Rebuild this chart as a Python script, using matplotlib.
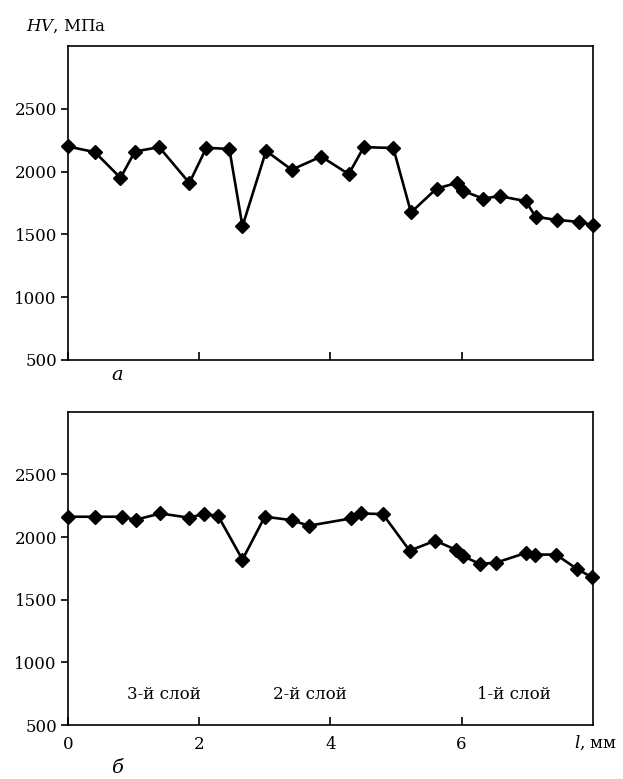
import matplotlib.pyplot as plt

# а) верхний график
l_a = [0, 0.41, 0.80, 1.02, 1.39, 1.85, 2.11, 2.46, 2.66, 3.02, 3.41, 3.86, 4.28,
       4.51, 4.96, 5.23, 5.62, 5.93, 6.03, 6.33, 6.58, 6.98, 7.13, 7.46, 7.79, 8.0]
hv_a = [2200, 2155, 1950, 2160, 2195, 1910, 2190, 2180, 1565, 2165, 2015, 2120, 1980,
        2195, 2188, 1675, 1865, 1910, 1845, 1785, 1805, 1765, 1640, 1615, 1600, 1575]

# б) нижний график
l_b = [0, 0.41, 0.82, 1.03, 1.41, 1.85, 2.07, 2.29, 2.66, 3.0, 3.41, 3.67, 4.31,
       4.47, 4.80, 5.21, 5.60, 5.92, 6.03, 6.28, 6.53, 6.98, 7.12, 7.44, 7.76, 7.99]
hv_b = [2162, 2162, 2162, 2138, 2188, 2154, 2185, 2167, 1820, 2162, 2135, 2090, 2148,
        2188, 2183, 1891, 1971, 1897, 1846, 1785, 1796, 1873, 1860, 1860, 1746, 1679]

yticks = [500, 1000, 1500, 2000, 2500]
xticks = [0, 2, 4, 6]
sloi = ['3-й слой', '2-й слой', '1-й слой']
sloi_x = [1.47, 3.69, 6.8]

plt.rcParams['font.family'] = 'DejaVu Serif'
plt.rcParams['mathtext.fontset'] = 'dejavuserif'
plt.rcParams['font.size'] = 12

fig = plt.figure(figsize=(6.23, 7.79), dpi=100)
ax1 = fig.add_axes([0.1092, 0.5379, 0.8421, 0.4030])
ax2 = fig.add_axes([0.1092, 0.0693, 0.8421, 0.4022])

for ax, x, y in [(ax1, l_a, hv_a), (ax2, l_b, hv_b)]:
    ax.plot(x, y, color='black', lw=1.9, marker='D', ms=7.3, clip_on=False, zorder=3)
    ax.set_xlim(0, 8)
    ax.set_ylim(500, 3000)
    ax.set_yticks(yticks)
    ax.set_xticks(xticks)
    for s in ax.spines.values():
        s.set_linewidth(1.2)
    ax.tick_params(axis='x', direction='in', length=6, width=1.2)
    ax.tick_params(axis='y', direction='out', length=5, width=1.2, pad=3)

ax1.set_xticklabels([])
ax1.text(-0.08, 1.035, '$HV$, МПа', transform=ax1.transAxes, ha='left', va='bottom')
fig.text(117 / 623, 1 - 375 / 779, 'а', ha='center', va='center', style='italic', fontsize=14)

for t, xx in zip(sloi, sloi_x):
    ax2.text(xx, 740, t, ha='center', va='center')
ax2.set_xticklabels(['0', '2', '4', '6'])
ax2.tick_params(axis='x', pad=8)
ax2.text(8.05, 435, '$l$, мм', ha='center', va='top')
fig.text(117 / 623, 1 - 768 / 779, 'б', ha='center', va='center', style='italic', fontsize=14)

plt.savefig('out.png')
